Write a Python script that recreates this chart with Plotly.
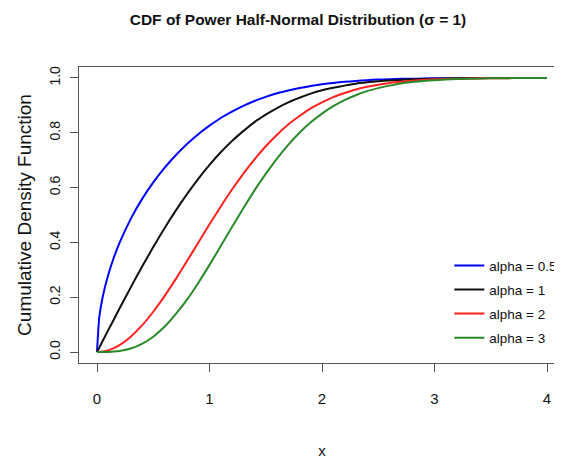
import plotly.graph_objects as go

# x grid
x_vals = [0, 0.02, 0.05, 0.1, 0.15, 0.2, 0.3, 0.4, 0.5, 0.6, 0.7, 0.8, 0.9, 1.0,
          1.1, 1.2, 1.3, 1.4, 1.5, 1.6, 1.7, 1.8, 1.9, 2.0, 2.1, 2.2, 2.3,
          2.4, 2.5, 2.6, 2.7, 2.8, 2.9, 3.0, 3.2, 3.4, 3.6, 3.8, 4.0]

cdf_alpha_05 = [0, 0.126, 0.200, 0.282, 0.345, 0.398, 0.486, 0.558, 0.619, 0.672, 0.718,
                0.759, 0.795, 0.826, 0.854, 0.877, 0.898, 0.916, 0.931, 0.944,
                0.954, 0.963, 0.971, 0.977, 0.982, 0.986, 0.989, 0.992, 0.994,
                0.995, 0.997, 0.997, 0.998, 0.999, 0.999, 1.0, 1.0, 1.0, 1.0]
cdf_alpha_1 = [0, 0.016, 0.040, 0.080, 0.119, 0.159, 0.236, 0.311, 0.383, 0.452, 0.516,
               0.576, 0.632, 0.683, 0.729, 0.770, 0.806, 0.839, 0.866, 0.890,
               0.911, 0.928, 0.943, 0.955, 0.964, 0.972, 0.979, 0.984, 0.988,
               0.991, 0.993, 0.995, 0.996, 0.997, 0.999, 0.999, 1.0, 1.0, 1.0]
cdf_alpha_2 = [0, 0.0003, 0.002, 0.006, 0.014, 0.025, 0.056, 0.097, 0.147, 0.204, 0.266,
               0.332, 0.399, 0.466, 0.531, 0.593, 0.650, 0.703, 0.751, 0.793,
               0.830, 0.861, 0.889, 0.911, 0.930, 0.945, 0.958, 0.968, 0.975,
               0.982, 0.986, 0.990, 0.993, 0.995, 0.997, 0.999, 0.999, 1.0, 1.0]
cdf_alpha_3 = [0, 0.0, 0.0001, 0.0005, 0.0017, 0.004, 0.013, 0.030, 0.056, 0.092, 0.138,
               0.191, 0.252, 0.318, 0.387, 0.456, 0.524, 0.590, 0.650, 0.706,
               0.756, 0.800, 0.838, 0.870, 0.897, 0.919, 0.937, 0.952, 0.963,
               0.972, 0.980, 0.985, 0.989, 0.992, 0.996, 0.998, 0.999, 1.0, 1.0]

series_names = ["alpha = 0.5", "alpha = 1", "alpha = 2", "alpha = 3"]
series_values = [cdf_alpha_05, cdf_alpha_1, cdf_alpha_2, cdf_alpha_3]
series_colors = ["#0000ff", "#111111", "#ff2020", "#2a8a2a"]

x_ticks = [0, 1, 2, 3, 4]
y_ticks = [0.0, 0.2, 0.4, 0.6, 0.8, 1.0]
y_ticklabels = ["0.0", "0.2", "0.4", "0.6", "0.8", "1.0"]

FONT = "Liberation Sans, Arial, sans-serif"

fig = go.Figure()
for name, vals, col in zip(series_names, series_values, series_colors):
    fig.add_trace(go.Scatter(x=x_vals, y=vals, mode="lines", name=name,
                             legendgroup=name,
                             line=dict(color=col, width=2, shape="spline",
                                       smoothing=0.6)))

# page body adds an 8px offset; margins compensate for it
fig.update_layout(
    width=562, height=459,
    margin=dict(l=71, r=5, t=59, b=104, autoexpand=False),
    paper_bgcolor="white", plot_bgcolor="white",
    title=dict(text="<b>CDF of Power Half-Normal Distribution (σ = 1)</b>",
               x=290 / 562, xref="container", xanchor="center",
               y=1 - 12 / 459, yref="container", yanchor="middle",
               font=dict(family=FONT, size=15.5, color="#111")),
    showlegend=True,
    legend=dict(x=0.762, xanchor="left", y=0.381, yanchor="top",
                bgcolor="rgba(0,0,0,0)", borderwidth=0,
                font=dict(family=FONT, size=13.5, color="#111"),
                tracegroupgap=3.5),
    xaxis=dict(range=[-0.16, 4.16], tickvals=x_ticks, automargin=False,
               showgrid=False, zeroline=False,
               showline=True, mirror=True, linecolor="#555", linewidth=1,
               ticks="outside", ticklen=8, tickcolor="#555",
               ticklabelstandoff=14,
               tickfont=dict(family=FONT, size=15, color="#111"),
               title=dict(text="x", standoff=39,
                          font=dict(family=FONT, size=15, color="#111"))),
    yaxis=dict(range=[-0.04, 1.04], tickvals=y_ticks, ticktext=y_ticklabels,
               automargin=False,
               showgrid=False, zeroline=False,
               showline=True, mirror=False, linecolor="#555", linewidth=1,
               ticks="outside", ticklen=8, tickcolor="#555",
               tickangle=-90, ticklabelstandoff=4,
               tickfont=dict(family=FONT, size=14, color="#111"),
               title=dict(text="Cumulative Density Function", standoff=10,
                          font=dict(family=FONT, size=19, color="#111"))),
)

fig.write_html("out.html")
